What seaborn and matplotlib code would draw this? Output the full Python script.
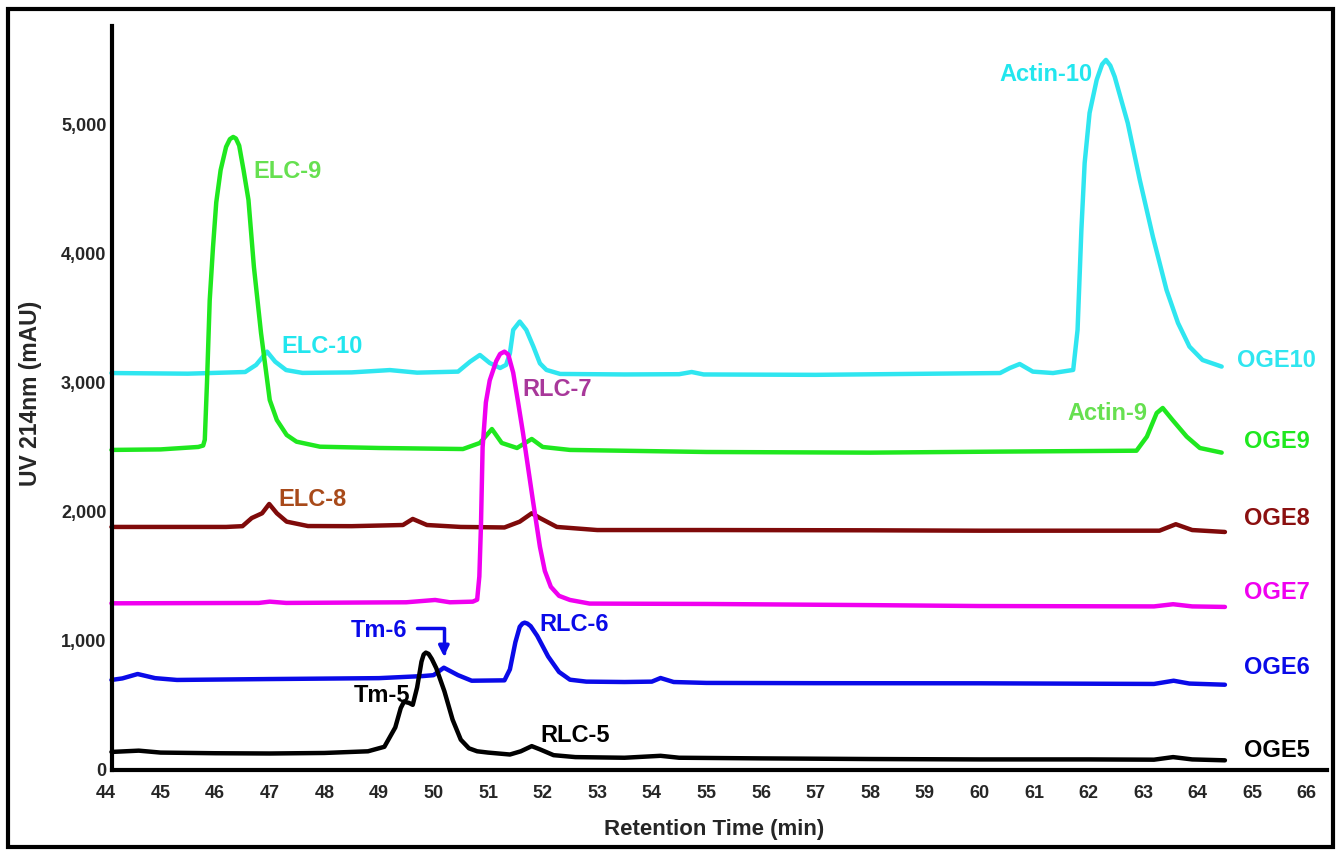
import numpy as np
import pandas as pd
import matplotlib
matplotlib.use("Agg")
import matplotlib.pyplot as plt
from matplotlib.patches import Rectangle
import seaborn as sns

# ---------------- data ----------------
rt_oge5 = [44.1, 44.6, 45.0, 46.0, 47.0, 48.0, 48.8, 49.1, 49.3, 49.4, 49.46, 49.55, 49.62,
           49.7, 49.78, 49.82, 49.86, 49.91, 49.97, 50.05, 50.2, 50.35, 50.5, 50.65, 50.8, 51.0,
           51.4, 51.6, 51.8, 51.95, 52.2, 52.6, 53.5, 54.16, 54.5, 56.0, 58.0, 60.0, 62.0,
           63.2, 63.55, 63.9, 64.5]
uv_oge5 = [140, 150, 135, 130, 128, 132, 145, 180, 330, 480, 530, 520, 505,
           640, 840, 895, 910, 900, 860, 790, 610, 390, 235, 168, 145, 135,
           120, 145, 185, 160, 115, 100, 95, 110, 95, 90, 85, 82, 82,
           80, 100, 82, 75]

rt_oge6 = [44.1, 44.3, 44.58, 44.9, 45.3, 47.0, 49.0, 49.8, 50.0, 50.19, 50.45, 50.7, 51.3,
           51.4, 51.5, 51.58, 51.63, 51.67, 51.72, 51.78, 51.9, 52.1, 52.3, 52.5, 52.8, 53.5,
           54.0, 54.16, 54.4, 55.0, 57.0, 60.0, 63.2, 63.56, 63.85, 64.5]
uv_oge6 = [698, 710, 744, 712, 698, 705, 712, 728, 735, 793, 735, 692, 695,
           780, 990, 1110, 1135, 1142, 1135, 1115, 1040, 880, 760, 700, 685, 682,
           685, 713, 682, 675, 673, 672, 667, 692, 670, 661]

rt_oge7 = [44.1, 46.8, 47.0, 47.3, 49.5, 50.03, 50.3, 50.72, 50.8, 50.84, 50.87, 50.9, 50.96,
           51.03, 51.15, 51.22, 51.3, 51.37, 51.46, 51.55, 51.64, 51.82, 51.95, 52.04, 52.15,
           52.3, 52.5, 52.86, 55.0, 58.0, 60.0, 63.2, 63.55, 63.9, 64.5]
uv_oge7 = [1292, 1295, 1305, 1295, 1300, 1318, 1300, 1305, 1320, 1500, 1900, 2500, 2850,
           3020, 3170, 3225, 3243, 3220, 3080, 2850, 2612, 2093, 1730, 1543, 1420,
           1350, 1318, 1290, 1287, 1278, 1271, 1268, 1285, 1268, 1264]

rt_oge8 = [44.1, 45.0, 46.2, 46.5, 46.67, 46.86, 46.99, 47.13, 47.31, 47.7, 48.5, 49.44, 49.62,
           49.88, 50.5, 51.3, 51.58, 51.8, 51.95, 52.26, 53.0, 55.0, 58.0, 60.0, 63.3, 63.6,
           63.9, 64.5]
uv_oge8 = [1884, 1884, 1884, 1890, 1953, 1990, 2062, 1990, 1925, 1891, 1890, 1899, 1946,
           1899, 1884, 1880, 1925, 1990, 1953, 1884, 1860, 1860, 1858, 1855, 1855, 1905,
           1860, 1845]

rt_oge9 = [44.1, 45.0, 45.69, 45.78, 45.81, 45.85, 45.90, 45.96, 46.02, 46.1, 46.2, 46.27,
           46.33, 46.38, 46.44, 46.52, 46.61, 46.71, 46.84, 47.0, 47.13, 47.31, 47.49, 47.92,
           49.0, 50.54, 50.85, 51.07, 51.25, 51.53, 51.8, 52.0, 52.5, 55.0, 58.0, 60.38,
           62.88, 63.07, 63.25, 63.36, 63.54, 63.8, 64.04, 64.44]
uv_oge9 = [2481, 2485, 2504, 2515, 2560, 3000, 3640, 4050, 4400, 4650, 4830, 4890,
           4907, 4895, 4840, 4650, 4419, 3899, 3388, 2868, 2713, 2597, 2545, 2506,
           2496, 2488, 2535, 2643, 2535, 2496, 2566, 2504, 2481, 2465, 2460, 2468,
           2475, 2584, 2767, 2806, 2713, 2584, 2496, 2460]

rt_oge10 = [44.1, 45.5, 46.55, 46.75, 46.95, 47.1, 47.3, 47.6, 48.5, 49.2, 49.7, 50.45, 50.67,
            50.85, 51.03, 51.22, 51.33, 51.4, 51.46, 51.58, 51.7, 51.83, 51.95, 52.07, 52.32,
            53.5, 54.5, 54.73, 54.95, 57.0, 60.38, 60.56, 60.74, 60.98, 61.35, 61.72, 61.8,
            61.87, 61.93, 62.02, 62.15, 62.25, 62.32, 62.4, 62.48, 62.72, 62.94, 63.18, 63.43,
            63.64, 63.85, 64.09, 64.44]
uv_oge10 = [3077, 3072, 3085, 3140, 3243, 3165, 3100, 3078, 3082, 3100, 3080, 3088, 3165,
            3217, 3155, 3116, 3140, 3230, 3411, 3476, 3411, 3282, 3152, 3101, 3070,
            3066, 3068, 3085, 3066, 3063, 3077, 3116, 3147, 3088, 3077, 3101, 3411,
            4186, 4705, 5093, 5349, 5470, 5504, 5460, 5374, 5014, 4574, 4134, 3721,
            3465, 3282, 3178, 3127]

trace_names = ["OGE10", "OGE9", "OGE8", "OGE6", "OGE5", "OGE7"]
trace_colors = ["#2fe6f0", "#1fe81f", "#7f0a0a", "#0a0ae8", "#000000", "#f000f0"]
trace_rt = [rt_oge10, rt_oge9, rt_oge8, rt_oge6, rt_oge5, rt_oge7]
trace_uv = [uv_oge10, uv_oge9, uv_oge8, uv_oge6, uv_oge5, uv_oge7]

# end-of-trace labels
end_labels = ["OGE10", "OGE9", "OGE8", "OGE7", "OGE6", "OGE5"]
end_label_colors = ["#2fe6f0", "#1fe81f", "#8b1010", "#f000f0", "#0a0ae8", "#000000"]
end_label_y = [3178, 2543, 1953, 1372, 798, 155]
end_label_x = 65.45

# peak annotations
peak_labels = ["Actin-10", "ELC-9", "ELC-10", "RLC-7", "Actin-9", "ELC-8", "Tm-6", "RLC-6", "Tm-5", "RLC-5"]
peak_x = [61.23, 47.33, 47.96, 52.26, 62.35, 47.79, 49.0, 52.57, 49.05, 52.6]
peak_y = [5388, 4636, 3279, 2946, 2767, 2093, 1085, 1124, 581, 271]
peak_colors = ["#22e6ee", "#66e050", "#22e6ee", "#a8389a", "#66e050", "#a84a1a", "#0a0ae8",
               "#0a0ae8", "#000000", "#000000"]

x_ticks = list(range(44, 67))
y_ticks = [0, 1000, 2000, 3000, 4000, 5000]
y_tick_labels = ["0", "1,000", "2,000", "3,000", "4,000", "5,000"]

# ---------------- plotting ----------------
sns.set_style("white")
plt.rcParams['font.family'] = ['Liberation Sans', 'DejaVu Sans']
plt.rcParams['font.weight'] = 'bold'

fig = plt.figure(figsize=(13.37, 8.5), dpi=100)
ax = fig.add_axes([106 / 1337, 1 - 770 / 850, 1221 / 1337, 744 / 850])

for name, col, xs, ys in zip(trace_names, trace_colors, trace_rt, trace_uv):
    df = pd.DataFrame({"rt": xs, "uv": ys})
    sns.lineplot(data=df, x="rt", y="uv", ax=ax, color=col, lw=3.2, sort=False,
                 estimator=None, solid_capstyle="round", solid_joinstyle="round")

for lab, col, yy in zip(end_labels, end_label_colors, end_label_y):
    ax.text(end_label_x, yy, lab, color=col, fontsize=17, fontweight='bold',
            ha='center', va='center')

for lab, xx, yy, col in zip(peak_labels, peak_x, peak_y, peak_colors):
    ax.text(xx, yy, lab, color=col, fontsize=17, fontweight='bold', ha='center', va='center')

# Tm-6 bracket arrow
ax.annotate('', xy=(50.19, 880), xytext=(49.70, 1100),
            arrowprops=dict(arrowstyle='-|>,head_length=0.6,head_width=0.3', color='#0a0ae8', lw=2.5,
                            connectionstyle='angle,angleA=0,angleB=90,rad=0',
                            shrinkA=0, shrinkB=0))

ax.set_xlim(44, 66.37)
ax.set_ylim(0, 5767)
ax.set_xticks(x_ticks)
ax.set_xticklabels([str(t) for t in x_ticks])
ax.set_yticks(y_ticks)
ax.set_yticklabels(y_tick_labels)
ax.tick_params(axis='both', length=0, labelsize=13)
ax.tick_params(axis='x', pad=11)
ax.tick_params(axis='y', pad=4)
for lbl in ax.get_xticklabels() + ax.get_yticklabels():
    lbl.set_fontweight('bold')

ax.spines['top'].set_visible(False)
ax.spines['right'].set_visible(False)
ax.spines['left'].set_position(('data', 44.11))
ax.spines['bottom'].set_bounds(44.11, 66.37)
ax.spines['left'].set_linewidth(3)
ax.spines['bottom'].set_linewidth(3)
ax.spines['left'].set_color('black')
ax.spines['bottom'].set_color('black')
ax.set_xlabel('')
ax.set_ylabel('')

fig.text(714 / 1337, 1 - 830 / 850, 'Retention Time (min)', fontsize=16, fontweight='bold',
         ha='center', va='center')
fig.text(31 / 1337, 1 - 393 / 850, 'UV 214nm (mAU)', fontsize=16.5, fontweight='bold',
         ha='center', va='center', rotation=90)

# outer frame
fig.patches.append(Rectangle((8 / 1337, 3 / 850), 1325 / 1337, 838 / 850,
                             transform=fig.transFigure, fill=False, edgecolor='black',
                             lw=3, zorder=10))

fig.savefig("out.png", dpi=100)
